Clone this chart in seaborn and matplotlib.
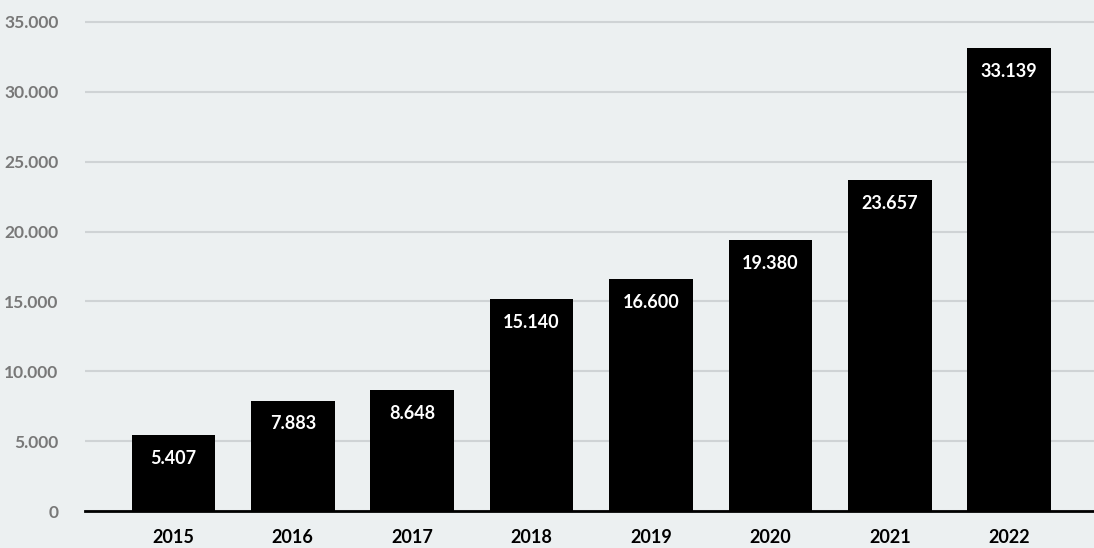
import matplotlib
matplotlib.use("Agg")
import matplotlib.pyplot as plt
import seaborn as sns
import pandas as pd

# data
years = ["2015", "2016", "2017", "2018", "2019", "2020", "2021", "2022"]
values = [5407, 7883, 8648, 15140, 16600, 19380, 23657, 33139]
y_ticks = [0, 5000, 10000, 15000, 20000, 25000, 30000, 35000]

bg = "#ecf0f1"

sns.set_theme(style="white")
plt.rcParams["font.family"] = ["Lato", "DejaVu Sans"]

df = pd.DataFrame({"year": years, "value": values})

fig = plt.figure(figsize=(10.94, 5.48), dpi=100, facecolor=bg)
ax = fig.add_axes([85 / 1094, 37 / 548, 1009 / 1094, 503 / 548])
ax.set_facecolor(bg)

sns.barplot(data=df, x="year", y="value", color="black", width=0.70,
            saturation=1, edgecolor="black", linewidth=0, ax=ax, zorder=3)

def fmt(v):
    return f"{v:,.0f}".replace(",", ".")

for i, v in enumerate(values):
    ax.text(i, v - 1650, fmt(v), ha="center", va="center", color="white",
            fontsize=13, fontweight="bold", zorder=4)

ax.set_xlim(-0.74, 7.71)
ax.set_ylim(0, 36000)
ax.set_yticks(y_ticks)
ax.set_yticklabels([fmt(t) for t in y_ticks], color="#787878",
                   fontsize=12.5, fontweight="bold")
ax.yaxis.grid(True, color="#cfd3d5", linewidth=1.5, zorder=0)
ax.tick_params(axis="y", length=0, pad=19)
ax.tick_params(axis="x", length=6, width=1.8, color="black", pad=7,
               labelsize=13, labelcolor="black")
for lab in ax.get_xticklabels():
    lab.set_fontweight("bold")

for s in ["top", "right", "left"]:
    ax.spines[s].set_visible(False)
ax.spines["bottom"].set_color("black")
ax.spines["bottom"].set_linewidth(2)
ax.spines["bottom"].set_zorder(5)

ax.set_xlabel("")
ax.set_ylabel("")

fig.savefig("out.png", dpi=100, facecolor=bg)
plt.close()
